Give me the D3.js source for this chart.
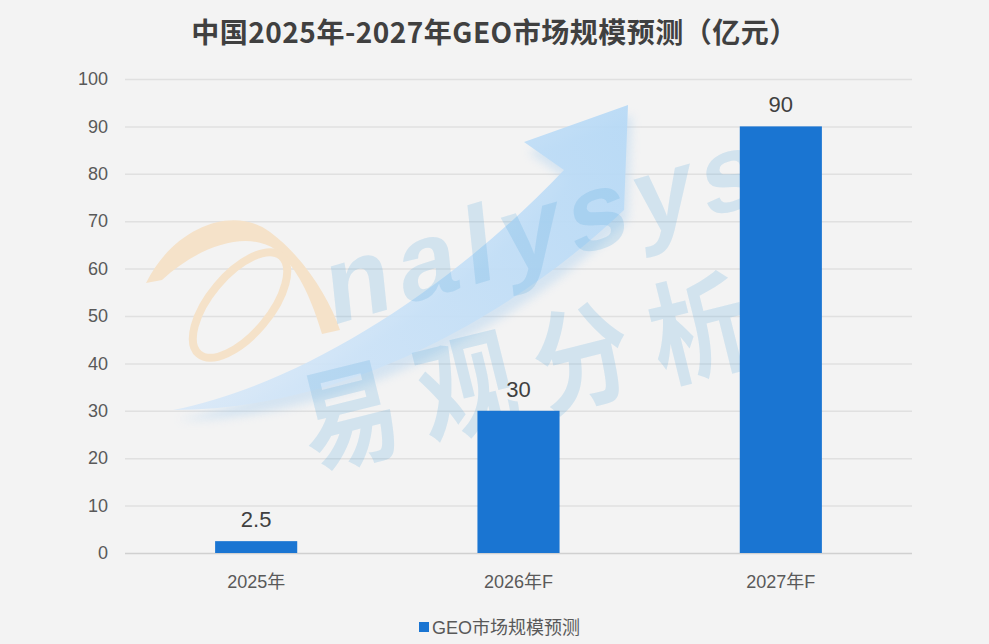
<!DOCTYPE html>
<html lang="zh">
<head>
<meta charset="UTF-8">
<title>GEO市场规模预测</title>
<script src="https://cdn.jsdelivr.net/npm/d3@7"></script>
<style>
  html, body { margin: 0; padding: 0; background: #f3f3f3; }
  svg { display: block; }
</style>
</head>
<body>
<svg id="chart" width="989" height="644"></svg>
<script>
// data
const categories = ["2025年", "2026年F", "2027年F"];
const values = [2.5, 30, 90];
const yTicks = [0, 10, 20, 30, 40, 50, 60, 70, 80, 90, 100];
const seriesName = "GEO市场规模预测";
const title = "中国2025年-2027年GEO市场规模预测（亿元）";

const W = 989, H = 644;
const plotLeft = 125, plotRight = 912, plotTop = 79, plotBottom = 553;
const barColor = "#1a75d2";
const latin = "'Liberation Sans', Arial, 'Noto Sans CJK SC', sans-serif";

const svg = d3.select("#chart");

svg.append("rect").attr("width", W).attr("height", H).attr("fill", "#f3f3f3");

const x = d3.scaleBand()
  .domain(categories)
  .range([plotLeft, plotRight])
  .paddingInner(0.687)
  .paddingOuter(0.3435);

const y = d3.scaleLinear().domain([0, 100]).range([plotBottom, plotTop]);

// title
svg.append("text")
  .attr("x", W / 2)
  .attr("y", 43)
  .attr("text-anchor", "middle")
  .attr("font-family", "'Noto Sans CJK SC', sans-serif")
  .attr("font-weight", "bold")
  .attr("font-size", 28)
  .attr("letter-spacing", 0.5)
  .attr("fill", "#404040")
  .text(title);

// y axis with gridlines
const yAxis = svg.append("g")
  .attr("transform", `translate(${plotLeft},0)`)
  .call(d3.axisLeft(y).tickValues(yTicks).tickSize(-(plotRight - plotLeft)).tickPadding(17));
yAxis.select(".domain").remove();
yAxis.selectAll(".tick line")
  .attr("stroke", d => d === 0 ? "#d0d0d0" : "#e0e0e0")
  .attr("stroke-width", 1.5);
yAxis.selectAll(".tick text")
  .attr("font-family", latin)
  .attr("font-size", 18)
  .attr("fill", "#595959");

// watermark layer
const wm = svg.append("g").attr("class", "watermark");

const defs = svg.append("defs");
const grad = defs.append("linearGradient")
  .attr("id", "arrowGrad")
  .attr("gradientUnits", "userSpaceOnUse")
  .attr("x1", 173).attr("y1", 410).attr("x2", 628).attr("y2", 105);
grad.append("stop").attr("offset", "0").attr("stop-color", "#d8e8f8");
grad.append("stop").attr("offset", "1").attr("stop-color", "#b6d9f6");
defs.append("filter").attr("id", "soft")
  .append("feGaussianBlur").attr("stdDeviation", 5);

// orange "a" loop
wm.append("path")
  .attr("d", "M146,283 C175,225 235,205 270,232 C305,258 330,300 340,330 L322,334 C312,300 298,268 276,250 C248,230 200,245 162,280 Z")
  .attr("fill", "#f5e2c9");
wm.append("ellipse")
  .attr("cx", 240).attr("cy", 305).attr("rx", 64).attr("ry", 30)
  .attr("transform", "rotate(-50,240,305)")
  .attr("fill", "none").attr("stroke", "#f5e2c9").attr("stroke-width", 8);

// rising arrow
const arrowPath = "M173,410 C300,385 450,290 564,170 L524,142 L628,105 L624,210 C530,300 360,410 173,410 Z";
wm.append("path")
  .attr("d", arrowPath)
  .attr("fill", "#9cc8ee")
  .attr("opacity", 0.35)
  .attr("filter", "url(#soft)")
  .attr("transform", "translate(4,10)");
wm.append("path")
  .attr("d", arrowPath)
  .attr("fill", "url(#arrowGrad)")
  .attr("opacity", 0.9);

wm.append("text")
  .attr("transform", "translate(330,326) rotate(-16) skewX(-10)")
  .attr("font-family", "'Liberation Sans', Arial, sans-serif")
  .attr("font-weight", "bold")
  .attr("font-size", 108)
  .attr("letter-spacing", 9)
  .attr("fill", "#4ea6dc")
  .attr("fill-opacity", 0.2)
  .text("nalysys");

wm.append("text")
  .attr("transform", "translate(312,468) rotate(-14) scale(1,1.15)")
  .attr("font-family", "'Noto Sans CJK SC', sans-serif")
  .attr("font-weight", "bold")
  .attr("font-size", 98)
  .attr("letter-spacing", 22)
  .attr("fill", "#4ea6dc")
  .attr("fill-opacity", 0.2)
  .text("易观分析");

// bars
svg.append("g")
  .selectAll("rect")
  .data(values)
  .join("rect")
  .attr("x", (d, i) => x(categories[i]))
  .attr("y", d => y(d))
  .attr("width", x.bandwidth())
  .attr("height", d => y(0) - y(d))
  .attr("fill", barColor);

// value labels
svg.append("g")
  .selectAll("text")
  .data(values)
  .join("text")
  .attr("x", (d, i) => x(categories[i]) + x.bandwidth() / 2)
  .attr("y", d => y(d) - 14)
  .attr("text-anchor", "middle")
  .attr("font-family", latin)
  .attr("font-size", 22)
  .attr("fill", "#404040")
  .text(d => d);

// x axis
const xAxis = svg.append("g")
  .attr("transform", `translate(0,${plotBottom})`)
  .call(d3.axisBottom(x).tickSize(0).tickPadding(22));
xAxis.select(".domain").remove();
xAxis.selectAll(".tick text")
  .attr("font-family", latin)
  .attr("font-size", 18)
  .attr("fill", "#595959");

// legend
const legend = svg.append("g").attr("transform", "translate(419,622)");
legend.append("rect").attr("width", 10).attr("height", 10).attr("fill", barColor);
legend.append("text")
  .attr("x", 13).attr("y", 12)
  .attr("font-family", latin)
  .attr("font-size", 18)
  .attr("fill", "#595959")
  .text(seriesName);
</script>
</body>
</html>
